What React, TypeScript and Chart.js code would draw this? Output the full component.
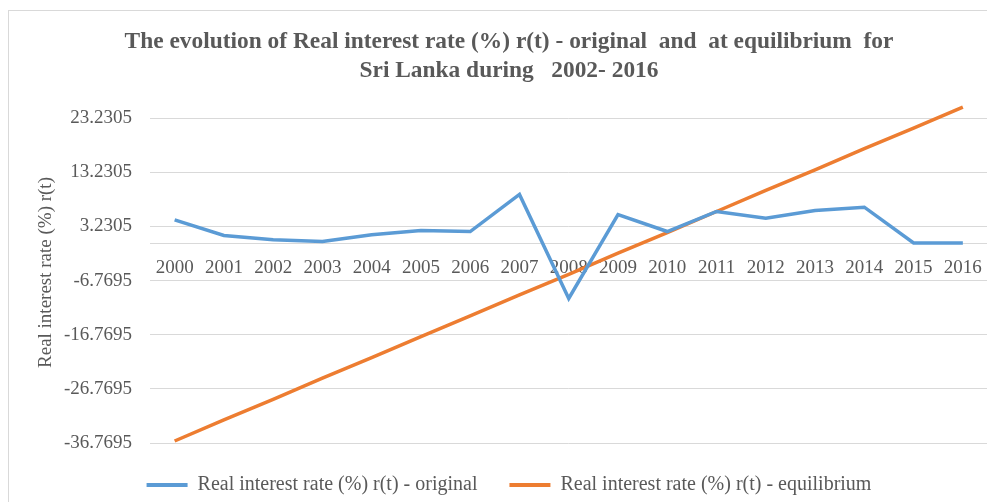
import React, { useEffect, useRef } from "react";
import { Chart, registerables } from "chart.js";

Chart.register(...registerables);

const years = [
  "2000", "2001", "2002", "2003", "2004", "2005", "2006", "2007", "2008",
  "2009", "2010", "2011", "2012", "2013", "2014", "2015", "2016",
];

const original = [
  4.46, 1.56, 0.76, 0.44, 1.69, 2.48, 2.3, 9.15, -10.06,
  5.44, 2.3, 6.0, 4.76, 6.19, 6.8, 0.2, 0.2,
];

const equilibrium = [
  -36.4, -32.5, -28.7, -24.8, -21.0, -17.1, -13.3, -9.4, -5.6,
  -1.7, 2.1, 6.0, 9.9, 13.7, 17.6, 21.4, 25.3,
];

const yTickValues = [23.2305, 13.2305, 3.2305, -6.7695, -16.7695, -26.7695, -36.7695];
const yTickLabels = ["23.2305", "13.2305", "3.2305", "-6.7695", "-16.7695", "-26.7695", "-36.7695"];

const titleLines = [
  "The evolution of Real interest rate (%) r(t) - original  and  at equilibrium  for",
  "Sri Lanka during   2002- 2016",
];
const seriesNames = [
  "Real interest rate (%) r(t) - original",
  "Real interest rate (%) r(t) - equilibrium",
];
const yAxisTitle = "Real interest rate (%) r(t)";

const BLUE = "#5b9bd5";
const ORANGE = "#ed7d31";
const GREY_TEXT = "#595959";
const GRID = "#d9d9d9";
const FONT = "'Liberation Serif', 'Times New Roman', serif";

export default function App() {
  const ref = useRef<HTMLCanvasElement>(null);

  useEffect(() => {
    if (!ref.current) return;
    Chart.defaults.font.family = FONT;
    const chart = new Chart(ref.current, {
      type: "line",
      data: {
        labels: years,
        datasets: [
          {
            label: seriesNames[0],
            data: original,
            borderColor: BLUE,
            backgroundColor: BLUE,
            borderWidth: 3.5,
            pointRadius: 0,
            tension: 0,
            fill: false,
          },
          {
            label: seriesNames[1],
            data: equilibrium,
            borderColor: ORANGE,
            backgroundColor: ORANGE,
            borderWidth: 3.5,
            pointRadius: 0,
            tension: 0,
            fill: false,
          },
        ],
      },
      options: {
        animation: false,
        responsive: true,
        maintainAspectRatio: false,
        layout: { padding: { left: 20, right: 5, top: 0, bottom: 0 } },
        plugins: {
          title: {
            display: true,
            text: titleLines,
            color: GREY_TEXT,
            font: { size: 23.4, weight: "bold", lineHeight: 1.25, family: FONT },
            padding: { top: 19, bottom: 16.5 },
          },
          legend: {
            position: "bottom",
            labels: {
              boxWidth: 41,
              boxHeight: 4,
              padding: 32,
              color: GREY_TEXT,
              font: { size: 20, family: FONT },
              generateLabels: (c: any) =>
                Chart.defaults.plugins.legend.labels
                  .generateLabels(c)
                  .map((l: any) => ({ ...l, lineWidth: 0 })),
            },
          },
          tooltip: { enabled: false },
        },
        scales: {
          x: {
            type: "category",
            position: { y: 0 } as any,
            offset: true,
            grid: { display: false, drawTicks: false },
            border: { display: true, color: GRID, width: 1 },
            ticks: {
              color: GREY_TEXT,
              font: { size: 19, family: FONT },
              padding: 13,
              maxRotation: 0,
              autoSkip: false,
            },
          },
          y: {
            min: -36.7695,
            max: 26.2305,
            afterBuildTicks: (s: any) => {
              s.ticks = yTickValues.map((v) => ({ value: v }));
            },
            afterFit: (s: any) => {
              s.width = 122;
            },
            grid: { color: GRID, drawTicks: false },
            border: { display: false },
            ticks: {
              color: GREY_TEXT,
              font: { size: 19, family: FONT },
              padding: 18,
              callback: (v: any) => {
                const i = yTickValues.indexOf(Number(v));
                return i >= 0 ? yTickLabels[i] : "";
              },
            },
            title: {
              display: true,
              text: yAxisTitle,
              color: GREY_TEXT,
              font: { size: 19, family: FONT },
              padding: { top: 6.6, bottom: 0 },
            },
          },
        },
      },
    } as any);
    return () => chart.destroy();
  }, []);

  return (
    <div style={{ position: "relative", width: 987, height: 494, overflow: "hidden" }}>
      <div
        style={{
          position: "absolute",
          left: 0,
          top: 2,
          width: 1200,
          height: 800,
          border: `1px solid ${GRID}`,
          boxSizing: "border-box",
          background: "#fff",
        }}
      />
      <div style={{ position: "absolute", left: 0, top: 0, width: 987, height: 497 }}>
        <canvas ref={ref} />
      </div>
    </div>
  );
}
